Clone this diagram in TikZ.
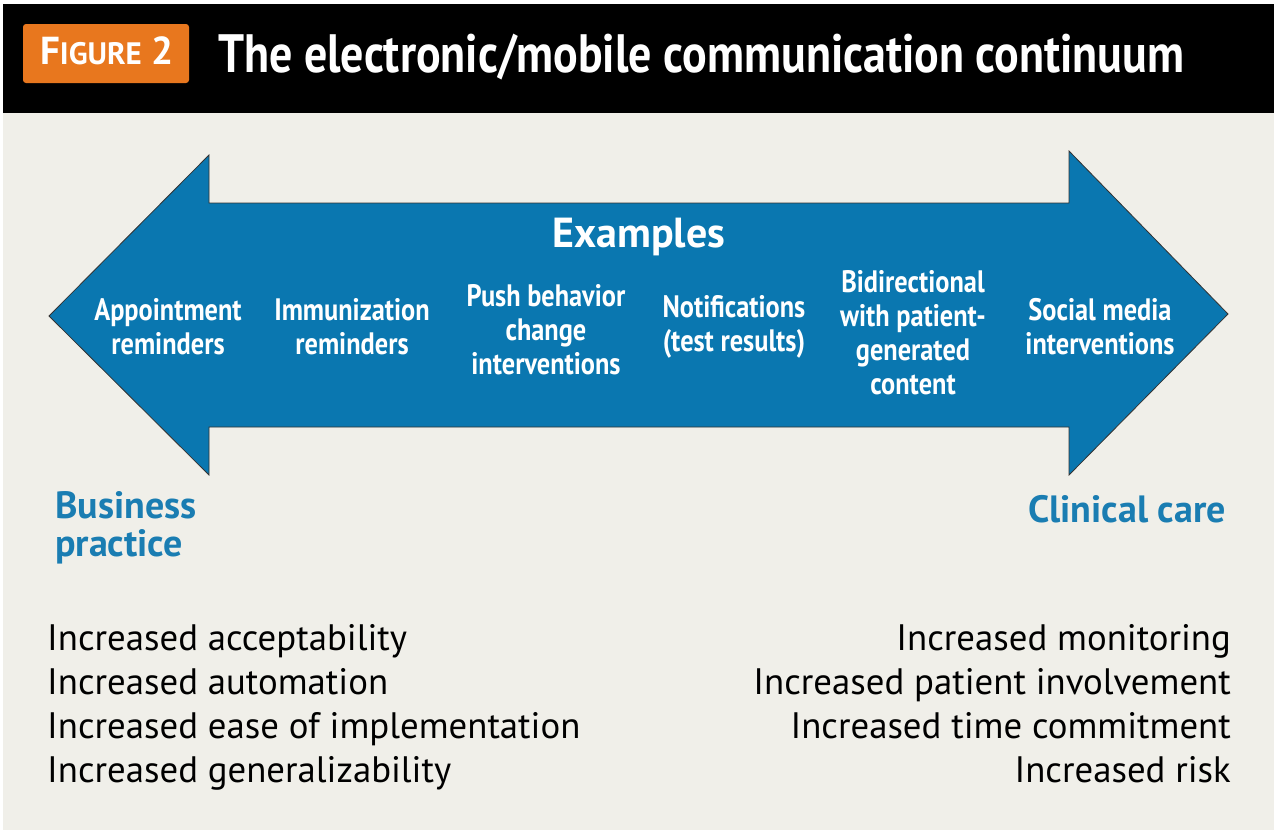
\documentclass[tikz,border=0pt]{standalone}
\usepackage{fontspec}
\setmainfont{PT Sans}
\newfontfamily\condfont{PT Sans}[FakeStretch=0.85]
\definecolor{bgpanel}{HTML}{F0EFE9}
\definecolor{arrowblue}{HTML}{0A77B0}
\definecolor{labelblue}{HTML}{1A7DB2}
\definecolor{figorange}{HTML}{E8771E}
\begin{document}
\begin{tikzpicture}[x=1pt,y=-1pt,
  item/.style={text=white,align=center,font=\condfont\bfseries\fontsize{31}{34}\selectfont,inner sep=0pt},
  endlabel/.style={text=labelblue,font=\bfseries\fontsize{38}{38}\selectfont,inner sep=0pt},
  listtext/.style={text=black,font=\fontsize{36.8}{44}\selectfont,inner sep=0pt}]
\useasboundingbox (0,0) rectangle (1279,839);
\fill[white] (0,0) rectangle (1279,839);
\fill[bgpanel] (3,113) rectangle (1274,830);
\fill[black] (3,4) rectangle (1274,113);
% figure tag
\fill[figorange,rounded corners=3pt] (23,24) rectangle (189,83);
\node[text=white,font=\bfseries\fontsize{39}{40}\selectfont,inner sep=0pt,anchor=base] (tag) at (107,64)
  {F{\fontsize{31}{32}\selectfont IGURE} 2};
\node[text=white,font=\condfont\bfseries\fontsize{54}{60}\selectfont,anchor=base west,inner sep=0pt] (title) at (218,72)
  {The electronic/mobile communication continuum};
% double arrow
\draw[fill=arrowblue,draw=black!80,line width=0.8pt,line join=miter]
  (49,316) -- (209,155) -- (209,203) -- (1069,203) -- (1069,151) -- (1228,314)
  -- (1069,475) -- (1069,427) -- (209,427) -- (209,475) -- cycle;
\node[text=white,font=\bfseries\fontsize{42}{46}\selectfont,inner sep=0pt] (examples) at (639,237) {Examples};
\node[item] (appt) at (168,327) {Appointment\\reminders};
\node[item] (immu) at (352,327) {Immunization\\reminders};
\node[item] (push) at (546,330) {Push behavior\\change\\interventions};
\node[item] (noti) at (734,327) {Notifications\\(test results)};
\node[item] (bidi) at (913,333) {Bidirectional\\with patient-\\generated\\content};
\node[item] (soci) at (1100,327) {Social media\\interventions};
% end labels
\node[endlabel,anchor=west,align=left] (bus) at (55,528) {Business\\practice};
\node[endlabel,anchor=east] (clin) at (1226,509) {Clinical care};
% lists
\node[listtext,anchor=base west] (l1) at (47,650) {Increased acceptability};
\node[listtext,anchor=base west] (l2) at (47,694) {Increased automation};
\node[listtext,anchor=base west] (l3) at (47,738) {Increased ease of implementation};
\node[listtext,anchor=base west] (l4) at (47,782) {Increased generalizability};
\node[listtext,anchor=base east] (r1) at (1231,650) {Increased monitoring};
\node[listtext,anchor=base east] (r2) at (1231,694) {Increased patient involvement};
\node[listtext,anchor=base east] (r3) at (1231,738) {Increased time commitment};
\node[listtext,anchor=base east] (r4) at (1231,782) {Increased risk};
\end{tikzpicture}
\end{document}
